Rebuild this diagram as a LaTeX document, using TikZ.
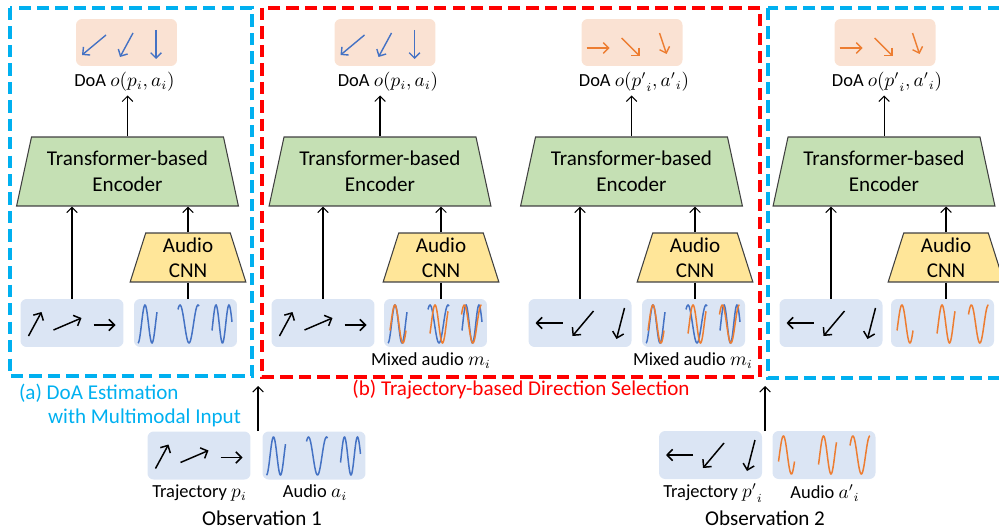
\documentclass[tikz,border=0pt]{standalone}
\usepackage{fontspec}
\setmainfont{Carlito}
\usetikzlibrary{shapes.geometric,arrows.meta}

\definecolor{dashblue}{RGB}{0,176,240}
\definecolor{dashred}{RGB}{255,0,0}
\definecolor{doafill}{RGB}{250,226,211}
\definecolor{obsfill}{RGB}{219,229,244}
\definecolor{encfill}{RGB}{197,224,180}
\definecolor{cnnfill}{RGB}{255,230,153}
\definecolor{wblue}{RGB}{68,114,196}
\definecolor{worange}{RGB}{237,125,49}

\begin{document}
\begin{tikzpicture}[x=0.02cm, y=-0.02cm,
    doabox/.style={rectangle, rounded corners=3.5pt, fill=doafill,
        minimum width=2.02cm, minimum height=0.94cm},
    obsbox/.style={rectangle, rounded corners=3.5pt, fill=obsfill,
        minimum width=2.06cm, minimum height=0.96cm},
    encoder/.style={trapezium, trapezium angle=74, trapezium stretches=true,
        draw=black!75, line width=0.6pt, fill=encfill, minimum width=4.44cm,
        minimum height=1.38cm, inner sep=1pt, align=center,
        font=\fontsize{12}{15}\selectfont},
    cnn/.style={trapezium, trapezium angle=77, trapezium stretches=true,
        draw=black!75, line width=0.6pt, fill=cnnfill, minimum width=2.32cm,
        minimum height=0.98cm, inner sep=1pt, align=center,
        font=\fontsize{12}{14}\selectfont},
    lbl/.style={font=\fontsize{10.5}{12}\selectfont, inner sep=2pt},
    big/.style={font=\fontsize{12}{14}\selectfont, inner sep=1pt},
    flow/.style={-{Straight Barb[length=3pt,width=6pt]}, line width=0.6pt},
    traj/.style={-{Straight Barb[length=3.2pt,width=6.5pt]}, line width=0.85pt},
    doa/.style={-{Straight Barb[length=3pt,width=6pt]}, line width=0.8pt},
    wave/.style={line width=0.85pt},
    panel/.style={line width=2pt, dash pattern=on 7pt off 3.5pt}]

    \useasboundingbox (0,0) rectangle (999,530);

    % ---------- dashed panels ----------
    \draw[panel, dashblue] (10,8) rectangle (252,376);
    \draw[panel, dashred] (262,8) rectangle (760,377);
    \draw[panel, dashblue] (768,8) rectangle (1012,378);

    % ---------- encoders and audio CNNs ----------
    \foreach \n/\ex/\cx in {a/127.5/188, b/380/441, c/631.5/695, d/884/946}{
        \node[encoder] (enc-\n) at (\ex,171.5) {Transformer-based\\Encoder};
        \node[cnn] (cnn-\n) at (\cx,257.5) {Audio\\CNN};
        \draw[flow] (cnn-\n.north) -- (enc-\n.south -| cnn-\n.north);
    }

    % ---------- DoA outputs ----------
    \node[doabox] (doa-a) at (126.5,42.5) {};
    \node[doabox] (doa-b) at (385,42.5) {};
    \node[doabox] (doa-c) at (632,42.5) {};
    \node[doabox] (doa-d) at (885,42.5) {};
    \node[lbl] (lab-a) at (124.5,82) {DoA $o(p_i,a_i)$};
    \node[lbl] (lab-b) at (388,82) {DoA $o(p_i,a_i)$};
    \node[lbl] (lab-c) at (634,82) {DoA $o({p'}_i,{a'}_i)$};
    \node[lbl] (lab-d) at (887,82) {DoA $o({p'}_i,{a'}_i)$};
    \foreach \n in {a,b,c,d}
        \draw[flow] (enc-\n.north) -- (enc-\n.north |- lab-\n.south);

    % DoA arrows: blue for observation 1, orange for observation 2
    \foreach \b in {doa-a, doa-b}{
        \draw[doa, wblue] ([shift={(-20.5,-7.5)}]\b.center) -- ([shift={(-44.5,12.5)}]\b.center);
        \draw[doa, wblue] ([shift={(6.5,-9.5)}]\b.center) -- ([shift={(-6.5,14.5)}]\b.center);
        \draw[doa, wblue] ([shift={(29.5,-12.5)}]\b.center) -- ([shift={(29.5,16.5)}]\b.center);
    }
    \foreach \b in {doa-c, doa-d}{
        \draw[doa, worange] ([shift={(-45.5,5.5)}]\b.center) -- ([shift={(-22.5,5.5)}]\b.center);
        \draw[doa, worange] ([shift={(-10.5,-4.5)}]\b.center) -- ([shift={(7.5,13.5)}]\b.center);
        \draw[doa, worange] ([shift={(27.5,-9.5)}]\b.center) -- ([shift={(34.5,11.5)}]\b.center);
    }

    % ---------- trajectory and audio inputs ----------
    \node[obsbox] (tr-a) at (72,323) {};
    \node[obsbox] (au-a) at (185.5,323) {};
    \node[obsbox] (tr-b) at (323,323) {};
    \node[obsbox] (au-b) at (435.5,323) {};
    \node[obsbox] (tr-c) at (580,323) {};
    \node[obsbox] (au-c) at (693.5,323) {};
    \node[obsbox] (tr-d) at (831,323) {};
    \node[obsbox] (au-d) at (942.5,323) {};
    \foreach \n in {a,b,c,d}{
        \draw[flow] (tr-\n.north) -- (tr-\n.north |- enc-\n.south);
        \draw[line width=0.6pt] (cnn-\n.south) -- (cnn-\n.south |- au-\n.north);
    }
    \node[lbl] (mix-b) at (431,361) {Mixed audio $m_i$};
    \node[lbl] (mix-c) at (693,361) {Mixed audio $m_i$};

    % ---------- observations ----------
    \node[obsbox] (tr-o1) at (199,455.5) {};
    \node[obsbox] (au-o1) at (314,455.5) {};
    \node[obsbox] (tr-o2) at (710.5,455) {};
    \node[obsbox] (au-o2) at (824,455) {};
    \node[lbl] (tl-o1) at (199.5,493) {Trajectory $p_i$};
    \node[lbl] (al-o1) at (315,493) {Audio $a_i$};
    \node[lbl] (tl-o2) at (713,493) {Trajectory ${p'}_i$};
    \node[lbl] (al-o2) at (825,493) {Audio ${a'}_i$};
    \node[big] (obs-1) at (262,518) {Observation 1};
    \node[big] (obs-2) at (765,518) {Observation 2};

    \coordinate (o1-out) at (258,431);
    \coordinate (o1-in) at (258,386);
    \coordinate (o2-out) at (765,431);
    \coordinate (o2-in) at (765,386);
    \draw[flow] (o1-out) -- (o1-in);
    \draw[flow] (o2-out) -- (o2-in);

    % trajectory arrows
    \foreach \b in {tr-a, tr-b, tr-o1}{
        \draw[traj] ([shift={(-43.5,13)}]\b.center) -- ([shift={(-30.5,-11)}]\b.center);
        \draw[traj] ([shift={(-18.5,7)}]\b.center) -- ([shift={(9.5,-5)}]\b.center);
        \draw[traj] ([shift={(21.5,2)}]\b.center) -- ([shift={(43.5,2)}]\b.center);
    }
    \foreach \b in {tr-c, tr-d, tr-o2}{
        \draw[traj] ([shift={(-17.5,0)}]\b.center) -- ([shift={(-44.5,0)}]\b.center);
        \draw[traj] ([shift={(13.5,-12)}]\b.center) -- ([shift={(-7.5,13)}]\b.center);
        \draw[traj] ([shift={(44.5,-15)}]\b.center) -- ([shift={(36.5,16)}]\b.center);
    }

    % audio waves
    \foreach \cx/\cy in {185.5/324, 435.5/324, 693.5/324, 314/456}
        \foreach \sx/\len/\ph/\per in {-47.5/19/-90/14, -7.5/21/50/18, 26.5/20/-20/13}
            \draw[wave, wblue] plot[domain=0:\len, samples=40, smooth]
                ({\cx+\sx+\x}, {\cy-19*sin(\ph+360*\x/\per)});
    \foreach \cx/\cy in {435.5/324, 693.5/324, 942.5/324, 824/455}
        \foreach \sx/\len/\ph/\per in {-45.5/16/-20/16, -5.5/18/-30/15, 26/20/30/17}
            \draw[wave, worange] plot[domain=0:\len, samples=40, smooth]
                ({\cx+\sx+\x}, {\cy-19*sin(\ph+360*\x/\per)});

    % ---------- panel captions ----------
    \node[big, text=dashblue, anchor=west] (cap-a1) at (17,393) {(a) DoA Estimation};
    \node[big, text=dashblue, anchor=west] (cap-a2) at (46,418) {with Multimodal Input};
    \node[big, text=dashred] (cap-b) at (521,390) {(b) Trajectory-based Direction Selection};

\end{tikzpicture}
\end{document}
